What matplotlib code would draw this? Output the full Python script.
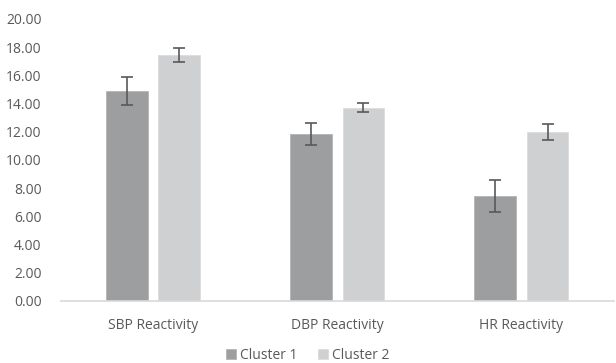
import numpy as np
import matplotlib.pyplot as plt

plt.rcParams['font.family'] = ['Open Sans', 'DejaVu Sans']

categories = ['SBP Reactivity', 'DBP Reactivity', 'HR Reactivity']
cluster1 = [14.9, 11.85, 7.45]
cluster1_err = [1.0, 0.78, 1.15]
cluster2 = [17.45, 13.7, 12.0]
cluster2_err = [0.5, 0.33, 0.58]

fig = plt.figure(figsize=(6.16, 3.63), dpi=100)
ax = fig.add_axes([0.099, 0.171, 0.897, 0.777])

x = np.arange(len(categories))
w = 0.226
off = 0.142
ekw = dict(ecolor='#595959', elinewidth=1.2, capsize=4, capthick=1.2)
ax.bar(x - off, cluster1, w, yerr=cluster1_err, color='#9d9ea0',
       edgecolor='#b3b4b6', linewidth=0.6, label='Cluster 1', error_kw=ekw)
ax.bar(x + off, cluster2, w, yerr=cluster2_err, color='#cfd0d2',
       edgecolor='#dcdcde', linewidth=0.6, label='Cluster 2', error_kw=ekw)

ax.set_xlim(-0.5, 2.5)
ax.set_ylim(0, 20)
ax.set_yticks(np.arange(0, 21, 2))
ax.set_yticklabels(['%.2f' % v for v in np.arange(0, 21, 2)])
ax.set_xticks(x)
ax.set_xticklabels(categories)
ax.tick_params(axis='both', length=0, colors='#595959', labelsize=10)
ax.tick_params(axis='x', pad=12)
ax.tick_params(axis='y', pad=14)
for s in ['top', 'right', 'left']:
    ax.spines[s].set_visible(False)
ax.spines['bottom'].set_color('#d9d9d9')
ax.spines['bottom'].set_linewidth(1.2)

leg = fig.legend(loc='lower center', ncol=2, frameon=False, fontsize=10,
                 bbox_to_anchor=(0.5, -0.035), handlelength=0.7, handleheight=0.7,
                 columnspacing=1.5, handletextpad=0.3)
for t in leg.get_texts():
    t.set_color('#595959')

fig.savefig('out.png', dpi=100)
